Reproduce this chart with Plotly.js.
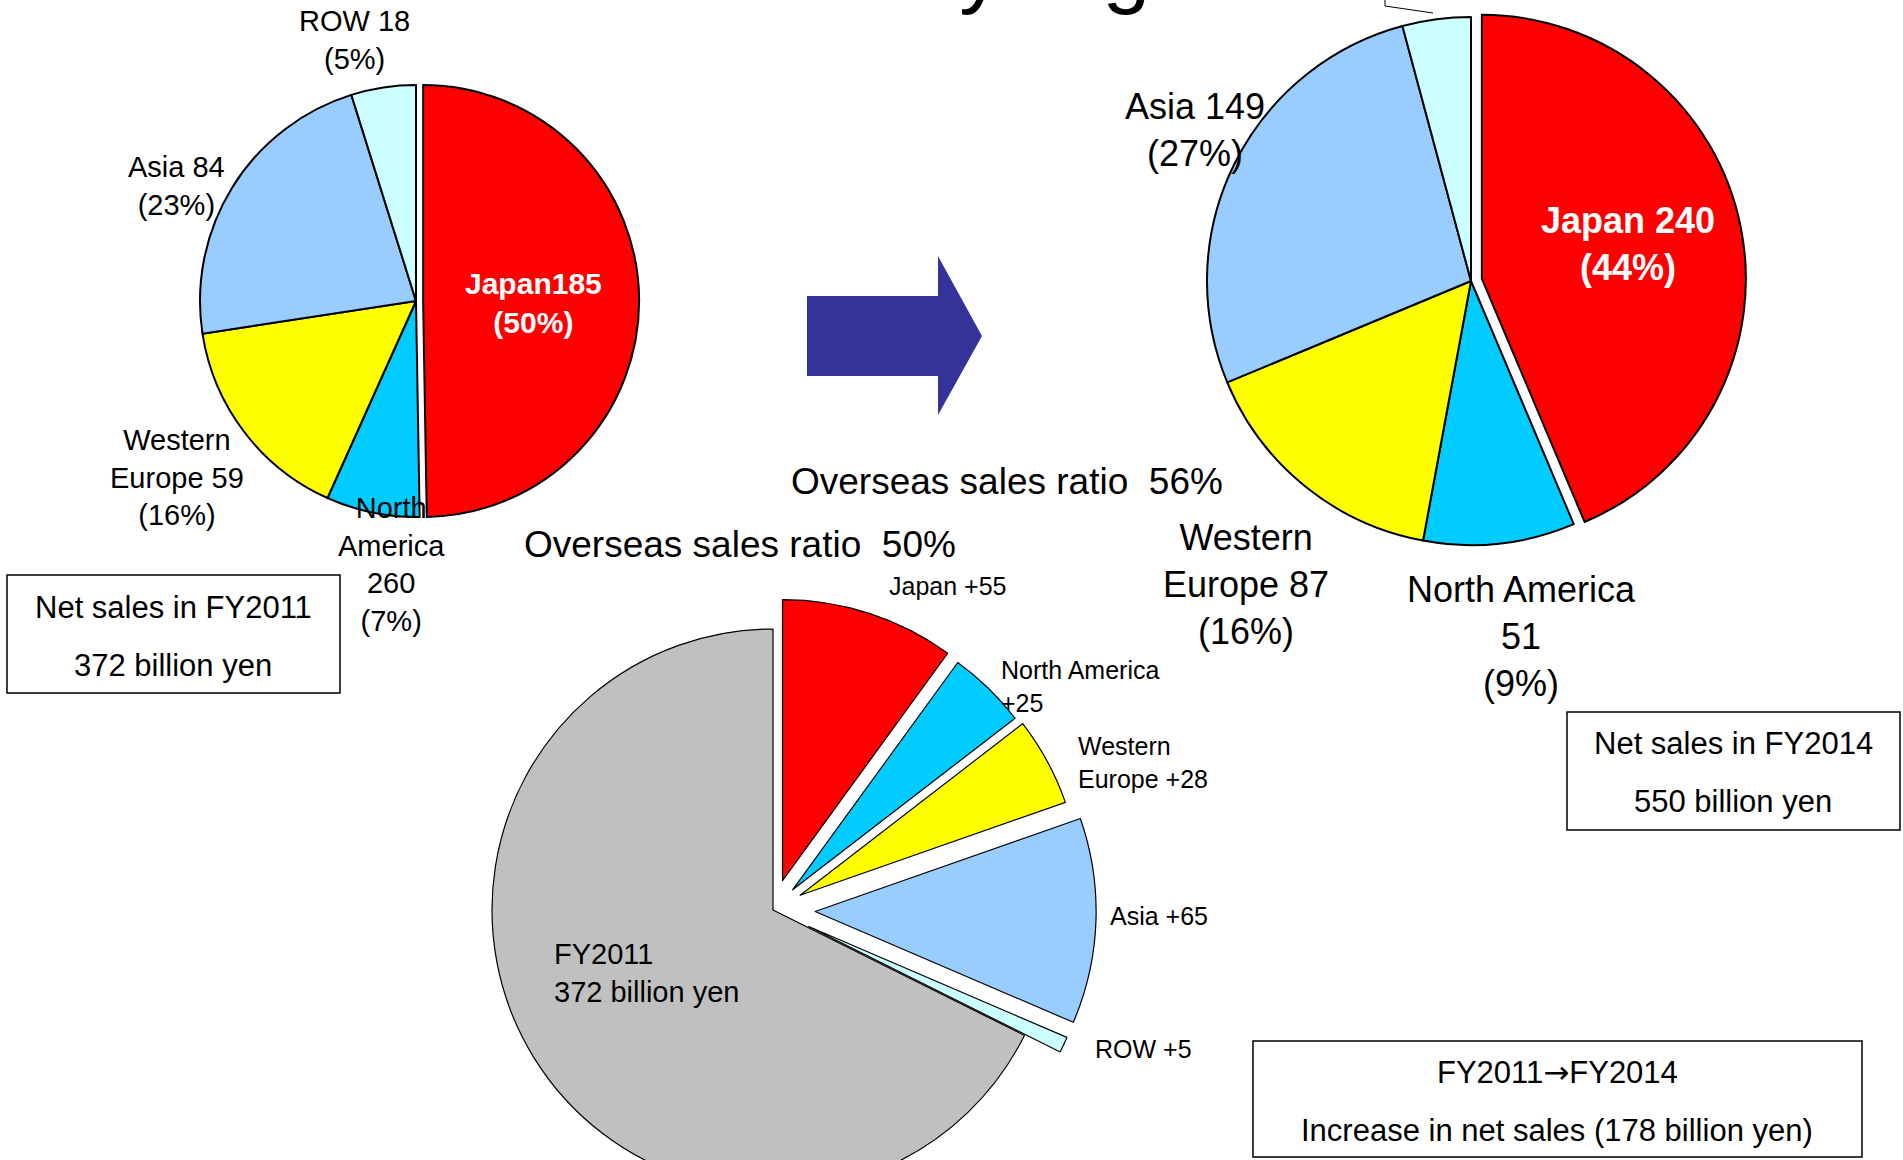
<!DOCTYPE html>
<html><head><meta charset="utf-8">
<script src="https://cdn.plot.ly/plotly-3.0.1.min.js"></script>
<style>
html,body{margin:0;padding:0;background:#fff;overflow:hidden}
#wrap{width:1903px;height:1160px;overflow:hidden;position:relative}
#chart{width:1903px;height:1240px}
</style></head>
<body><div id="wrap"><div id="chart"></div></div>
<script>
// ---- data ----
const regions = ["Japan", "North America", "Western Europe", "Asia", "ROW"];
const sales2011 = [185, 26, 59, 84, 18];          // billion yen, FY2011 (total 372)
const sales2014 = [240, 51, 87, 149, 23];         // billion yen, FY2014 (total 550)
const increase = [55, 25, 28, 65, 5];             // FY2011 -> FY2014 (total 178)
const baseName = "FY2011";
const baseValue = 372;
const regionColors = ["#FF0000", "#00CCFF", "#FFFF00", "#99CCFF", "#CCFFFF"];
const baseColor = "#C0C0C0";

const labels2011 = ["Japan185<br>(50%)", "North<br>America<br>260<br>(7%)", "Western<br>Europe 59<br>(16%)", "Asia 84<br>(23%)", "ROW 18<br>(5%)"];
const labels2014 = ["Japan 240<br>(44%)", "North America<br>51<br>(9%)", "Western<br>Europe 87<br>(16%)", "Asia 149<br>(27%)"];
const labelsIncrease = ["Japan +55", "North America<br>+25", "Western<br>Europe +28", "Asia +65", "ROW +5"];
const baseLabel = "FY2011<br>372 billion yen";
const ratio2011 = "Overseas sales ratio\u00a0 50%";
const ratio2014 = "Overseas sales ratio\u00a0 56%";
const box2011 = ["Net sales in FY2011", "372 billion yen"];
const box2014 = ["Net sales in FY2014", "550 billion yen"];
const boxIncrease = ["FY2011<span style='font-family:DejaVu Sans'>\u2192</span>FY2014", "Increase in net sales (178 billion yen)"];
const titleText = "Net sales by region";

// ---- layout helpers (pixel -> paper) ----
const W = 1903, H = 1240;
const fx = x => x / W;
const fy = y => 1 - y / H;
function dom(cx, cy, r, pull) {
  const s = r * (1 + pull);
  return {x: [fx(cx - s), fx(cx + s)], y: [fy(cy + s), fy(cy - s)]};
}
const FONT = "Liberation Sans, Arial, Helvetica, sans-serif";

const pull2011 = [0.033, 0, 0, 0, 0];
const pull2014 = [0.042, 0, 0, 0, 0];
const pullInc = [0.11, 0.10, 0.11, 0.15, 0.14, 0];

const traces = [
  {type: "pie", labels: regions, values: sales2011, sort: false, direction: "clockwise", rotation: 0,
   marker: {colors: regionColors, line: {color: "#000", width: 2}}, pull: pull2011,
   textinfo: "none", hoverinfo: "label+value", domain: dom(416, 301, 216, 0.033)},
  {type: "pie", labels: regions, values: sales2014, sort: false, direction: "clockwise", rotation: 0,
   marker: {colors: regionColors, line: {color: "#000", width: 2}}, pull: pull2014,
   textinfo: "none", hoverinfo: "label+value", domain: dom(1471, 281, 264, 0.042)},
  {type: "pie", labels: regions.concat([baseName]), values: increase.concat([baseValue]), sort: false,
   direction: "clockwise", rotation: 0,
   marker: {colors: regionColors.concat([baseColor]), line: {color: "#000", width: 1.2}}, pull: pullInc,
   textinfo: "none", hoverinfo: "label+value", domain: dom(773, 910, 281, 0.15)}
];

function ann(text, x, y, size, opts) {
  return Object.assign({text: text, x: fx(x), y: fy(y), xref: "paper", yref: "paper",
    showarrow: false, xanchor: "center", yanchor: "middle", align: "center",
    font: {family: FONT, size: size, color: "#000"}}, opts || {});
}

const annotations = [
  // title (cut by the top edge, as in the source slide)
  ann(titleText, 527, 17, 86, {xanchor: "left", yanchor: "bottom", align: "left"}),
  // FY2011 pie
  ann(labels2011[4], 354, 40, 29),
  ann(labels2011[3], 176, 186, 29),
  ann("<b>" + labels2011[0].replace("<br>", "</b><br><b>") + "</b>", 533, 303, 30, {font: {family: FONT, size: 30, color: "#FFFFFF"}}),
  ann(labels2011[2], 177, 477, 29),
  ann(labels2011[1], 391, 564, 29),
  // FY2014 pie
  ann(labels2014[3], 1195, 130, 36),
  ann("<b>" + labels2014[0].replace("<br>", "</b><br><b>") + "</b>", 1628, 244, 36, {font: {family: FONT, size: 36, color: "#FFFFFF"}}),
  ann(labels2014[2], 1246, 584, 36),
  ann(labels2014[1], 1521, 636, 36),
  // ratios
  ann(ratio2011, 740, 545, 37),
  ann(ratio2014, 1007, 482, 37),
  // increase pie
  ann(labelsIncrease[0], 947, 586, 25),
  ann(labelsIncrease[1], 999, 686, 25, {xanchor: "left", align: "left"}),
  ann(labelsIncrease[2], 1076, 762, 25, {xanchor: "left", align: "left"}),
  ann(labelsIncrease[3], 1108, 916, 25, {xanchor: "left", align: "left"}),
  ann(labelsIncrease[4], 1093, 1049, 25, {xanchor: "left", align: "left"}),
  ann(baseLabel, 552, 973, 29, {xanchor: "left", align: "left"}),
  // boxes
  ann(box2011[0], 173, 607, 31), ann(box2011[1], 173, 665, 31),
  ann(box2014[0], 1733, 743, 31), ann(box2014[1], 1733, 801, 31),
  ann(boxIncrease[0], 1557, 1072, 31), ann(boxIncrease[1], 1557, 1130, 31)
];

function rect(x0, y0, x1, y1) {
  return {type: "rect", xref: "paper", yref: "paper", x0: fx(x0), x1: fx(x1), y0: fy(y1), y1: fy(y0),
    line: {color: "#000", width: 1.5}, fillcolor: "rgba(0,0,0,0)", layer: "above"};
}
function path(pts, close) {
  return pts.map((p, i) => (i ? "L " : "M ") + fx(p[0]) + " " + fy(p[1])).join(" ") + (close ? " Z" : "");
}

const shapes = [
  rect(7, 575, 340, 693),
  rect(1567, 712, 1900, 830),
  rect(1253, 1041, 1862, 1157),
  {type: "path", xref: "paper", yref: "paper",
   path: path([[807, 296], [938, 296], [938, 256], [982, 336], [938, 415], [938, 376], [807, 376]], true),
   fillcolor: "#333399", line: {width: 0}},
  {type: "path", xref: "paper", yref: "paper",
   path: path([[1385, 0], [1385, 6], [1433, 13]], false),
   line: {color: "#000", width: 1}}
];

const layout = {
  width: W, height: H, margin: {l: 0, r: 0, t: 0, b: 0},
  paper_bgcolor: "#FFFFFF", plot_bgcolor: "#FFFFFF",
  showlegend: false, annotations: annotations, shapes: shapes,
  font: {family: FONT}
};
Plotly.newPlot("chart", traces, layout, {displayModeBar: false, responsive: false});
</script>
</body></html>
